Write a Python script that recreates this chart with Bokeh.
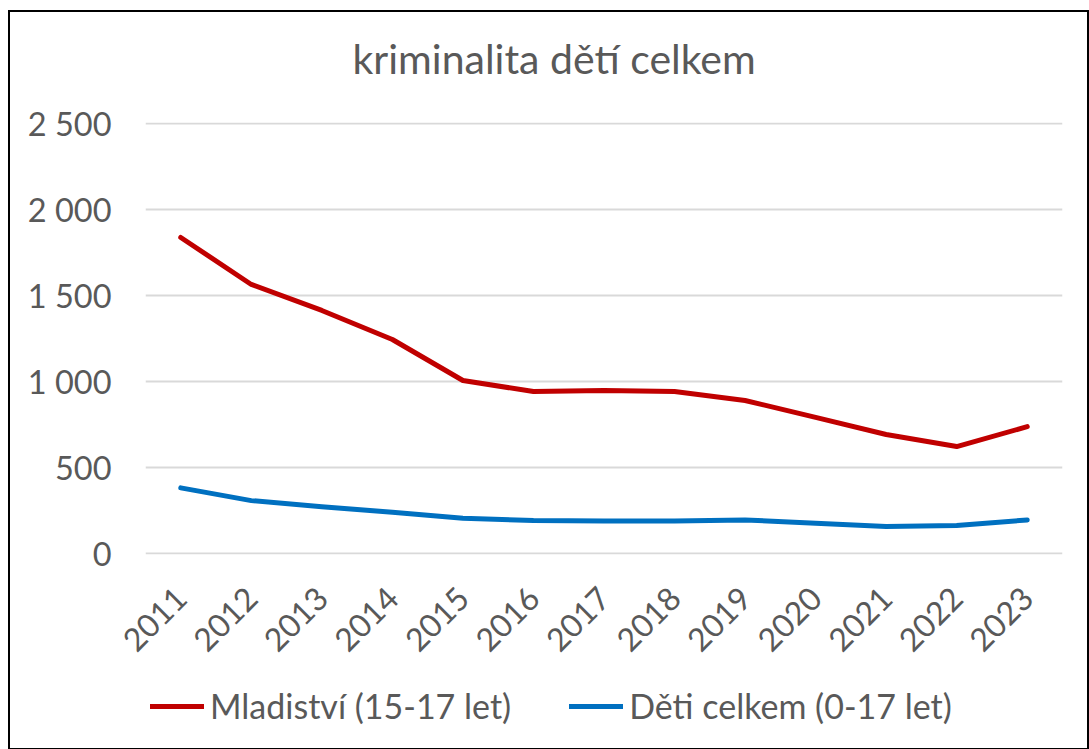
import math
from bokeh.plotting import figure
from bokeh.layouts import column
from bokeh.models import Legend, LegendItem, Range1d, SingleIntervalTicker, CustomJSTickFormatter, Title
from bokeh.embed import file_html
from bokeh.resources import INLINE

years = ["2011", "2012", "2013", "2014", "2015", "2016", "2017", "2018", "2019", "2020", "2021", "2022", "2023"]
mladistvi = [1837, 1564, 1413, 1244, 1006, 942, 948, 942, 890, 792, 692, 622, 738]
deti = [382, 308, 273, 240, 205, 192, 190, 190, 196, 176, 157, 163, 196]
series_names = ["Mladistv\u00ed (15-17 let)", "D\u011bti celkem (0-17 let)"]
series_colors = ["#C00000", "#0070C0"]
chart_title = "kriminalita dětí celkem"

FONT = "Lato"
GREY = "#595959"
W = 1077

p = figure(x_range=years, y_range=Range1d(-5, 2505), width=W, height=662, title=None,
           output_backend="svg", toolbar_location=None,
           min_border_left=135, min_border_right=25, min_border_top=110, min_border_bottom=120)

# spacer next to the frame, then the real title above it
p.add_layout(Title(text=" ", text_font_size="2px", standoff=14, text_color="white"), "above")
p.add_layout(Title(text=chart_title, align="left", text_font=FONT,
                   text_font_size="41px", text_font_style="normal", text_color=GREY,
                   standoff=40, offset=207, vertical_align="top"), "above")

p.line(years, mladistvi, line_color=series_colors[0], line_width=5, line_cap="round", line_join="round")
p.line(years, deti, line_color=series_colors[1], line_width=5, line_cap="round", line_join="round")

p.outline_line_color = None
p.xgrid.grid_line_color = None
p.ygrid.grid_line_color = "#D9D9D9"
p.ygrid.grid_line_width = 2

p.yaxis.ticker = SingleIntervalTicker(interval=500)
p.yaxis.formatter = CustomJSTickFormatter(code="""
    const s = Math.round(tick).toString();
    return s.replace(/\\B(?=(\\d{3})+(?!\\d))/g, ' ');
""")
for ax in (p.xaxis[0], p.yaxis[0]):
    ax.axis_line_color = None
    ax.major_tick_line_color = None
    ax.minor_tick_line_color = None
    ax.major_label_text_font = FONT
    ax.major_label_text_color = GREY
p.yaxis.major_label_text_font_size = "32.5px"
p.xaxis.major_label_text_font_size = "32px"
p.yaxis.major_label_standoff = 28
p.xaxis.major_label_orientation = math.pi / 4
p.xaxis.major_label_standoff = 32

# legend strip
q = figure(x_range=Range1d(10, 11), y_range=Range1d(10, 11), width=W, height=74,
           output_backend="svg", toolbar_location=None,
           min_border_left=0, min_border_right=0, min_border_top=0, min_border_bottom=0)
q.axis.visible = False
q.grid.visible = False
q.outline_line_color = None
items = []
for name, col in zip(series_names, series_colors):
    r = q.line([0, 1], [0, 1], line_color=col, line_width=5, line_cap="round")
    items.append(LegendItem(label=name, renderers=[r]))
legend = Legend(items=items, orientation="horizontal", location=(5, 22),
                label_text_font=FONT, label_text_font_size="34px", label_text_color=GREY,
                glyph_width=54, glyph_height=20, label_standoff=6, spacing=58,
                border_line_color=None, background_fill_alpha=0, margin=0, padding=0)
q.add_layout(legend, "center")

layout = column(p, q, spacing=0)
layout.styles = {"border": "2px solid black"}
layout.margin = (10, 0, 0, 8)

open("out.html", "w").write(file_html(layout, INLINE))
